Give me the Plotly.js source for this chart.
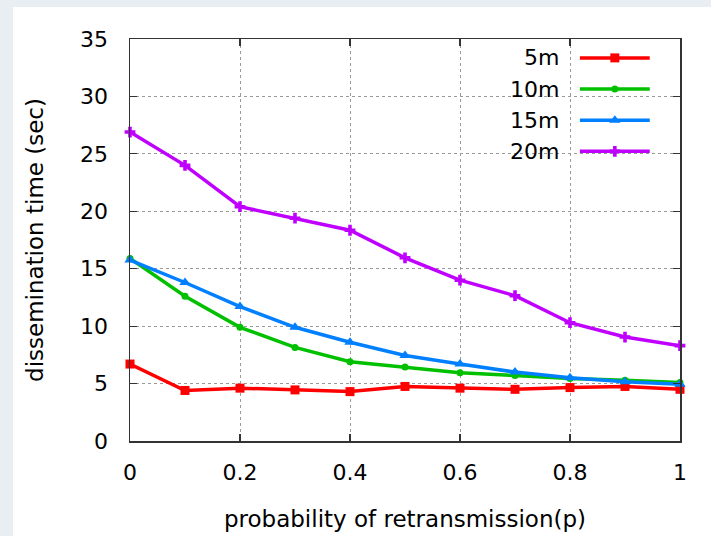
<!DOCTYPE html>
<html>
<head>
<meta charset="utf-8">
<script src="https://cdn.plot.ly/plotly-3.0.1.min.js"></script>
<style>
  html, body { margin: 0; padding: 0; width: 711px; height: 536px; background: #e9eef2; overflow: hidden; }
  #chart { position: absolute; left: 13px; top: 7px; width: 698px; height: 529px; background: #ffffff; }
</style>
</head>
<body>
<div id="chart"></div>
<script>
// ---- data ----
const prob = [0, 0.1, 0.2, 0.3, 0.4, 0.5, 0.6, 0.7, 0.8, 0.9, 1];
const time5m  = [6.7, 4.4, 4.6, 4.45, 4.3, 4.75, 4.6, 4.5, 4.65, 4.75, 4.5];
const time10m = [15.9, 12.6, 9.9, 8.15, 6.9, 6.45, 5.95, 5.7, 5.45, 5.3, 5.1];
const time15m = [15.75, 13.8, 11.7, 9.9, 8.6, 7.45, 6.7, 6.0, 5.5, 5.15, 4.95];
const time20m = [26.9, 24.0, 20.4, 19.4, 18.35, 15.95, 14.0, 12.65, 10.3, 9.05, 8.3];
const seriesNames = ['5m', '10m', '15m', '20m'];
const xTickVals = [0, 0.2, 0.4, 0.6, 0.8, 1];
const xTickText = ['0', '0.2', '0.4', '0.6', '0.8', '1'];
const yTickVals = [0, 5, 10, 15, 20, 25, 30, 35];

// ---- styles ----
const colors = ['#ff0000', '#00c000', '#0080ff', '#c000ff'];
const symbols = ['square', 'circle', 'triangle-up', 'cross'];
const msizes = [9, 7, 10, 9];
const seriesY = [time5m, time10m, time15m, time20m];
const FONT = 'DejaVu Sans, sans-serif';

const traces = seriesY.map((ys, i) => ({
  x: prob, y: ys, type: 'scatter', mode: 'lines+markers', name: seriesNames[i],
  line: {color: colors[i], width: 3.5},
  marker: {color: colors[i], symbol: symbols[i], size: msizes[i], line: {width: 0}},
  showlegend: false, cliponaxis: false
}));

// custom legend (text left, sample right) on a hidden overlay axis
const legTextX = 0.784, legLineX0 = 0.818, legLineX1 = 0.945, legTop = 0.953, legStep = 0.0775;
const annotations = [];
seriesNames.forEach((nm, i) => {
  const yy = legTop - i * legStep;
  annotations.push({xref: 'paper', yref: 'paper', x: legTextX, y: yy, xanchor: 'right', yanchor: 'middle',
    text: nm, showarrow: false, font: {family: FONT, size: 22, color: '#000'}});
  traces.push({
    x: [legLineX0, (legLineX0 + legLineX1) / 2, legLineX1], y: [yy, yy, yy],
    xaxis: 'x2', yaxis: 'y2', type: 'scatter', mode: 'lines+markers', showlegend: false, hoverinfo: 'skip',
    line: {color: colors[i], width: 3.5},
    marker: {color: colors[i], symbol: symbols[i], size: msizes[i], opacity: [0, 1, 0]}
  });
});

const axisCommon = {
  showline: true, linecolor: '#333333', linewidth: 1.5, mirror: 'ticks',
  ticks: 'inside', ticklen: 7, tickwidth: 1.2, tickcolor: '#333333',
  showgrid: true, gridcolor: '#9a9a9a', gridwidth: 1, griddash: 'dot',
  zeroline: false, tickfont: {family: FONT, size: 22, color: '#000'}
};

const layout = {
  width: 698, height: 529,
  margin: {l: 117, r: 31, t: 32, b: 95},
  paper_bgcolor: '#ffffff', plot_bgcolor: '#ffffff',
  showlegend: false,
  xaxis: Object.assign({}, axisCommon, {
    range: [0, 1], tickvals: xTickVals, ticktext: xTickText, ticklabelstandoff: 11,
    title: {text: 'probability of retransmission(p)', font: {family: FONT, size: 23, color: '#000'}, standoff: 27}
  }),
  yaxis: Object.assign({}, axisCommon, {
    range: [0, 35], tickvals: yTickVals, ticklabelstandoff: 16,
    title: {text: 'dissemination time (sec)', font: {family: FONT, size: 23, color: '#000'}, standoff: 30}
  }),
  xaxis2: {overlaying: 'x', range: [0, 1], visible: false, fixedrange: true},
  yaxis2: {overlaying: 'y', range: [0, 1], visible: false, fixedrange: true},
  annotations: annotations
};

Plotly.newPlot('chart', traces, layout, {displayModeBar: false, staticPlot: true});
</script>
</body>
</html>
